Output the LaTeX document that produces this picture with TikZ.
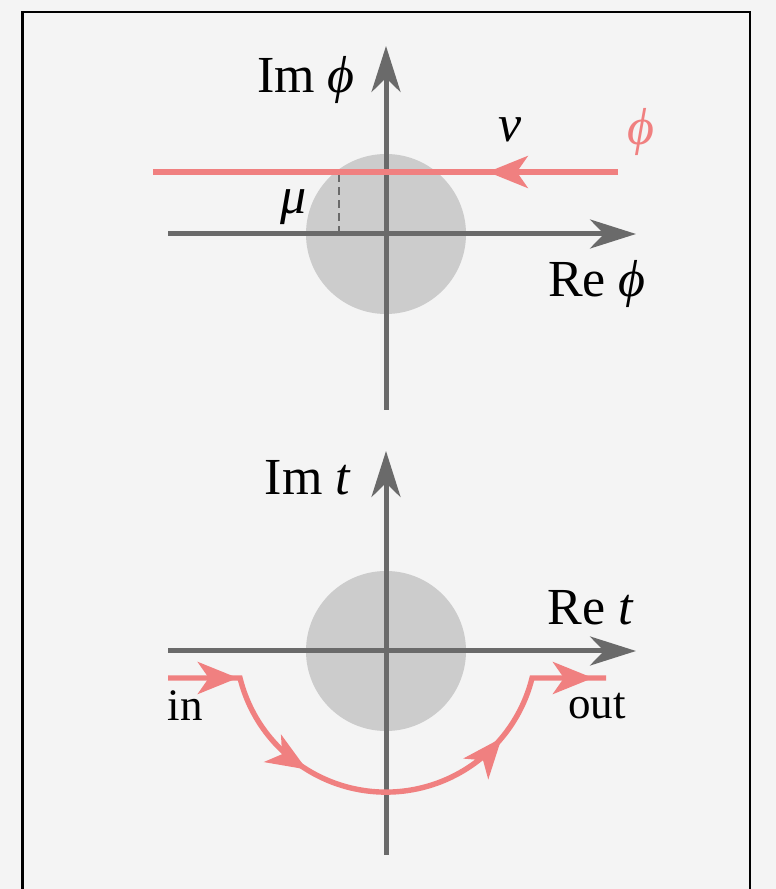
\documentclass[tikz,border=0pt]{standalone}
\usepackage{fontspec}
\setmainfont{Liberation Serif}
\usetikzlibrary{arrows.meta,decorations.markings}
\definecolor{axisgray}{HTML}{6A6A6A}
\definecolor{diskgray}{HTML}{CCCCCC}
\definecolor{contourred}{HTML}{F08080}
\definecolor{paper}{HTML}{F4F4F4}
\tikzset{
  redtip/.tip={Stealth[length=20pt,width=16pt,inset=5.5pt]},
  axis/.style={axisgray, line width=2.5pt, -{Stealth[length=23pt,width=14.5pt,inset=7pt]}},
  contour/.style={contourred, line width=2.7pt},
  lbl/.style={font=\fontsize{26}{30}\selectfont, inner sep=0pt},
  smalllbl/.style={font=\fontsize{22.5}{26}\selectfont, inner sep=0pt}
}
\begin{document}
\begin{tikzpicture}[x=0.5pt,y=0.5pt]
\useasboundingbox (0,0) rectangle (776,889);
\fill[paper] (0,0) rectangle (776,889);
\draw[line width=1.1pt] (22.5,0) -- (22.5,877) -- (750,877) -- (750,0);

% phi plane
\coordinate (O1) at (386,655);
\fill[diskgray] (O1) circle (80);
\coordinate (xa1) at (168,655);
\coordinate (xb1) at (636,655);
\coordinate (ya1) at (386,479);
\coordinate (yb1) at (386,843);
\draw[axis] (xa1) -- (xb1);
\draw[axis] (ya1) -- (yb1);
\coordinate (mu0) at (339,655);
\coordinate (mu1) at (339,717);
\draw[axisgray, line width=0.7pt, dash pattern=on 4pt off 2.5pt] (mu0) -- (mu1);
\coordinate (ls) at (618,717);
\coordinate (le) at (153,717);
\draw[contour, postaction={decorate},
  decoration={markings, mark=at position 0.28 with {\arrow{redtip}}}] (ls) -- (le);
\node[lbl] (imphi) at (306,809) {Im \textit{ϕ}};
\node[lbl] (rephi) at (597,605) {Re \textit{ϕ}};
\node[lbl] (nu) at (510,759) {\textit{ν}};
\node[lbl, contourred] (phi) at (641,757) {\textit{ϕ}};
\node[lbl] (mu) at (294,682) {\textit{μ}};

% t plane
\coordinate (O2) at (386,238);
\fill[diskgray] (O2) circle (80);
\coordinate (xa2) at (168,238);
\coordinate (xb2) at (636,238);
\coordinate (ya2) at (386,34);
\coordinate (yb2) at (386,438);
\draw[axis] (xa2) -- (xb2);
\draw[axis] (ya2) -- (yb2);
\coordinate (tin) at (168,211);
\coordinate (tout) at (606,211);
\draw[contour, postaction={decorate},
  decoration={markings,
    mark=at position 0.128 with {\arrow{redtip}},
    mark=at position 0.345 with {\arrow{redtip}},
    mark=at position 0.74 with {\arrow{redtip}},
    mark=at position 0.976 with {\arrow{redtip}}}]
  (tin) -- (240,211) arc[start angle=194, end angle=346, radius=150.5] -- (tout);
\node[lbl] (imt) at (308,411) {Im \textit{t}};
\node[lbl] (ret) at (591,281) {Re \textit{t}};
\node[smalllbl] (in) at (185,183) {in};
\node[smalllbl] (out) at (597,183) {out};
\end{tikzpicture}
\end{document}
